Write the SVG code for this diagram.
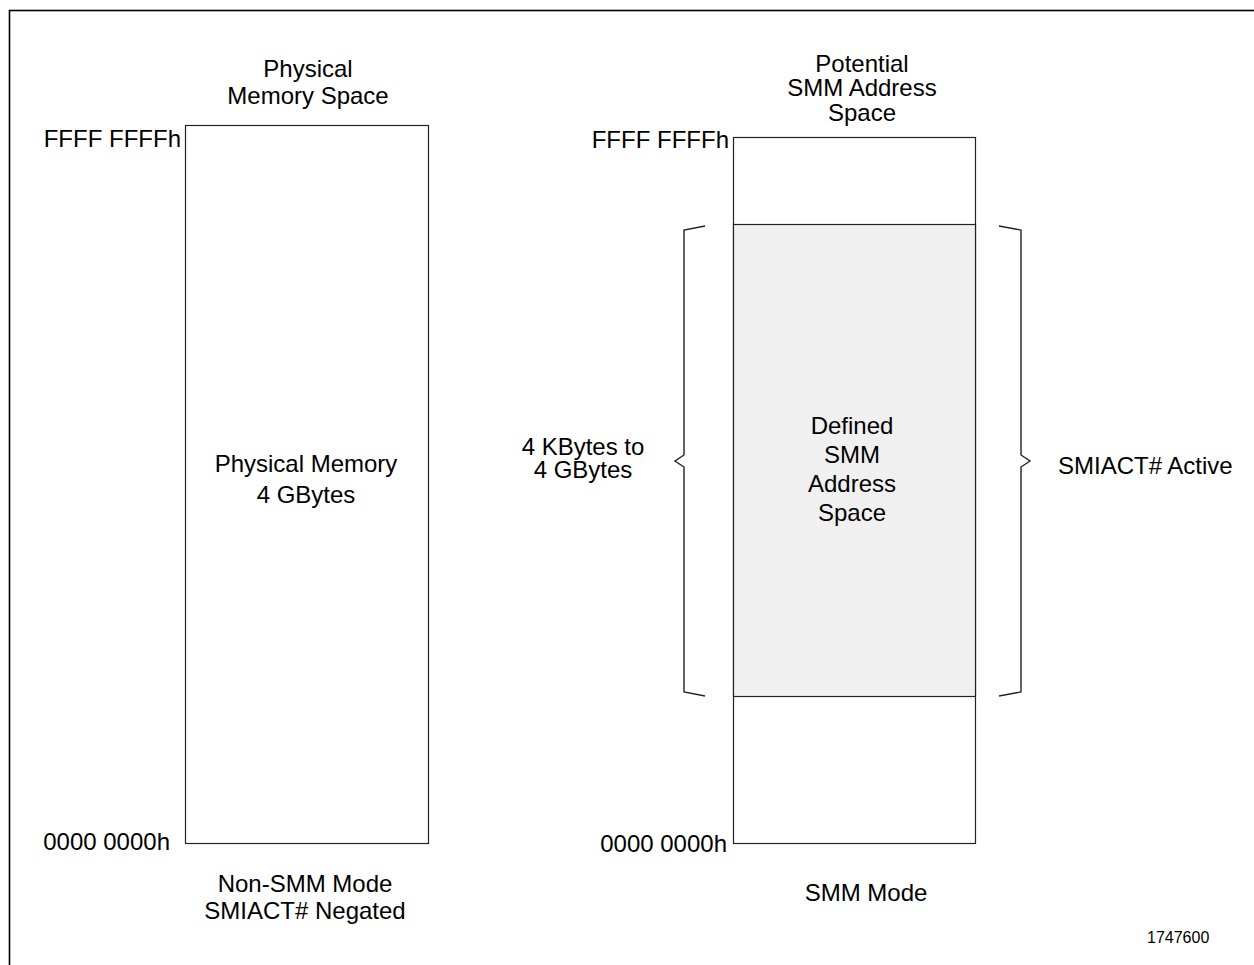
<svg xmlns="http://www.w3.org/2000/svg" width="1254" height="965" viewBox="0 0 1254 965">
<style>
.t{font-family:"Liberation Sans",Arial,sans-serif;font-size:24px;fill:#000}
.c{text-anchor:middle}
.box{fill:#fff;stroke:#222;stroke-width:1.2}
.br{fill:none;stroke:#222;stroke-width:1.4}
</style>
<rect x="9.5" y="10.5" width="1300" height="1000" fill="#fff" stroke="#000" stroke-width="1.6"/>
<g id="physical-memory">
<rect class="box" x="185.5" y="125.5" width="243" height="718"/>
<text class="t c" x="308" y="77">Physical</text>
<text class="t c" x="308" y="104">Memory Space</text>
<text class="t" x="181" y="147" text-anchor="end">FFFF FFFFh</text>
<text class="t" x="170" y="850" text-anchor="end">0000 0000h</text>
<text class="t c" x="306" y="472">Physical Memory</text>
<text class="t c" x="306" y="503">4 GBytes</text>
<text class="t c" x="305" y="892">Non-SMM Mode</text>
<text class="t c" x="305" y="919">SMIACT# Negated</text>
</g>
<g id="smm-space">
<rect class="box" x="733.5" y="137.5" width="242" height="706"/>
<rect x="733.5" y="224.5" width="242" height="472" fill="#f0f0f0" stroke="#222" stroke-width="1.2"/>
<text class="t c" x="862" y="72">Potential</text>
<text class="t c" x="862" y="96">SMM Address</text>
<text class="t c" x="862" y="121">Space</text>
<text class="t" x="729" y="148" text-anchor="end">FFFF FFFFh</text>
<text class="t" x="727" y="852" text-anchor="end">0000 0000h</text>
<text class="t c" x="852" y="434">Defined</text>
<text class="t c" x="852" y="463">SMM</text>
<text class="t c" x="852" y="492">Address</text>
<text class="t c" x="852" y="521">Space</text>
<text class="t c" x="866" y="901">SMM Mode</text>
</g>
<g id="connectors">
<polyline class="br" points="705,226 684,230 684,455 675,461 684,467 684,692 705,696"/>
<polyline class="br" points="999,226 1021,230 1021,455 1030,461 1021,467 1021,692 999,696"/>
</g>
<g id="labels">
<text class="t c" x="583" y="455">4 KBytes to</text>
<text class="t c" x="583" y="478">4 GBytes</text>
<text class="t" x="1058" y="474">SMIACT# Active</text>
<text class="t" x="1147" y="943" style="font-size:16px">1747600</text>
</g>
</svg>
